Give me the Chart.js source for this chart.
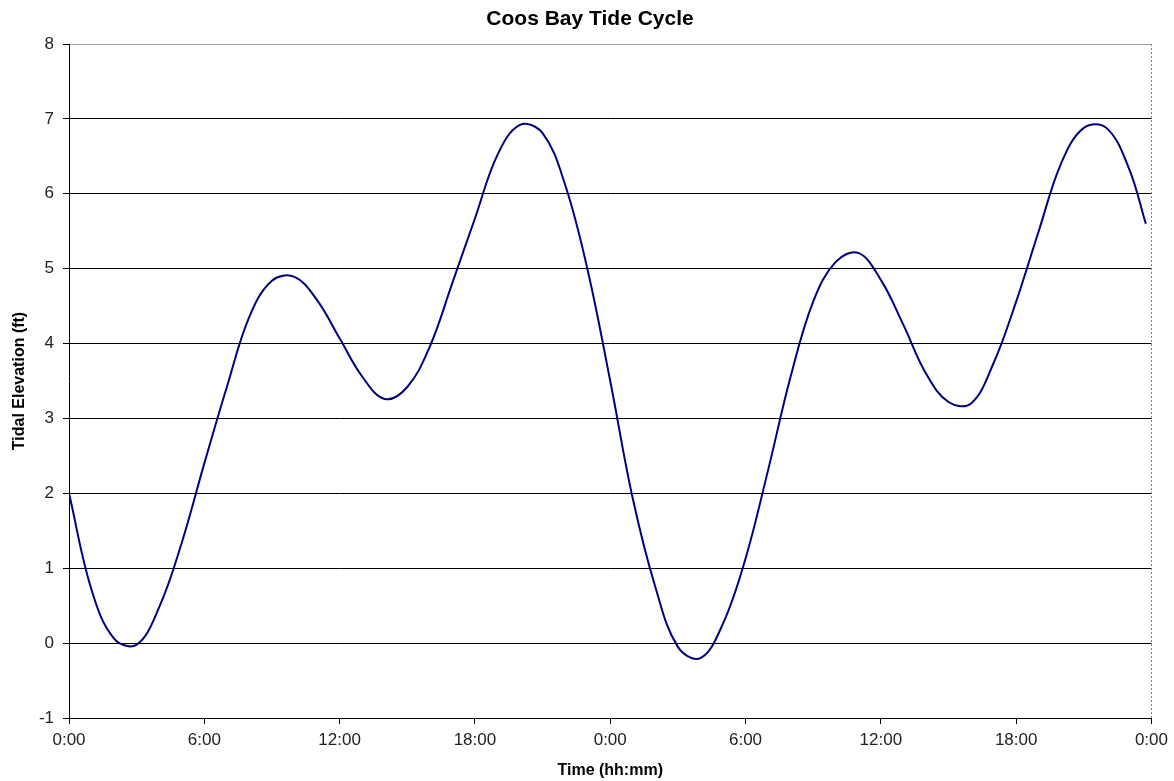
<!DOCTYPE html>
<html>
<head>
<meta charset="utf-8">
<script src="https://cdn.jsdelivr.net/npm/chart.js@4.4.1/dist/chart.umd.min.js"></script>
<style>
  html, body { margin: 0; padding: 0; background: #ffffff; }
  #wrap { width: 1174px; height: 781px; }
</style>
</head>
<body>
<div id="wrap"><canvas id="c" width="1174" height="781"></canvas></div>
<script>
// ---- Data ----
const hours = [0, 1, 2, 3, 4, 5, 6, 7, 8, 9, 10, 11, 12, 13, 14, 15, 16, 17, 18, 19, 20, 21, 22, 23,
               24, 25, 26, 27, 28, 29, 30, 31, 32, 33, 34, 35, 36, 37, 38, 39, 40, 41, 42, 43, 44, 45, 46, 47, 47.75];
const elevation = [2.0, 0.71, 0.06, -0.02, 0.48, 1.34, 2.4, 3.42, 4.36, 4.84, 4.89, 4.58, 4.07, 3.56, 3.26, 3.42, 3.96, 4.81, 5.67, 6.52, 6.92, 6.81, 6.12, 4.98,
                   3.5, 1.93, 0.75, -0.05, -0.2, 0.26, 1.13, 2.31, 3.56, 4.56, 5.09, 5.21, 4.85, 4.25, 3.6, 3.22, 3.2, 3.74, 4.56, 5.5, 6.41, 6.88, 6.88, 6.34, 5.6];
const timeTickLabels = ['0:00', '6:00', '12:00', '18:00', '0:00', '6:00', '12:00', '18:00', '0:00'];
const chartTitle = 'Coos Bay Tide Cycle';
const xTitle = 'Time (hh:mm)';
const yTitle = 'Tidal Elevation (ft)';

const points = hours.map((h, i) => ({ x: h, y: elevation[i] }));

const FONT = "'Liberation Sans', Arial, Helvetica, sans-serif";

const rightBorder = {
  id: 'rightBorder',
  afterDraw(chart) {
    const { ctx, chartArea } = chart;
    ctx.save();
    ctx.strokeStyle = '#808080';
    ctx.lineWidth = 1;
    ctx.setLineDash([2, 2]);
    ctx.beginPath();
    const x = Math.round(chartArea.right) + 0.5;
    ctx.moveTo(x, chartArea.top);
    ctx.lineTo(x, chartArea.bottom);
    ctx.stroke();
    ctx.restore();
  }
};

new Chart(document.getElementById('c'), {
  type: 'line',
  data: {
    datasets: [{
      data: points,
      borderColor: '#000080',
      borderWidth: 2,
      pointRadius: 0,
      tension: 0.38,
      fill: false,
      yAxisID: 'y'
    }]
  },
  options: {
    responsive: false,
    animation: false,
    layout: { padding: { left: 6, right: 0, top: 0, bottom: 0 } },
    plugins: {
      legend: { display: false },
      tooltip: { enabled: false },
      title: {
        display: true,
        text: chartTitle,
        color: '#000',
        font: { family: FONT, size: 21, weight: 'bold', lineHeight: 1.2 },
        padding: { top: 7, bottom: 11.8 }
      }
    },
    scales: {
      x: {
        type: 'linear',
        min: 0,
        max: 48,
        afterFit(scale) { scale.height = 63; },
        ticks: {
          stepSize: 6,
          autoSkip: false,
          maxRotation: 0,
          color: '#222',
          padding: 6,
          font: { family: FONT, size: 17 },
          callback: (v, i) => timeTickLabels[i]
        },
        grid: {
          drawOnChartArea: false,
          drawTicks: true,
          tickLength: 6,
          tickColor: '#000',
          color: '#000'
        },
        border: { display: true, color: '#000', width: 1 },
        title: {
          display: true,
          text: xTitle,
          color: '#000',
          font: { family: FONT, size: 16, weight: 'bold', lineHeight: 1.25 },
          padding: { top: 0, bottom: 0 }
        }
      },
      y: {
        position: 'left',
        min: -1,
        max: 8,
        afterFit(scale) { scale.width = 63; },
        ticks: {
          stepSize: 1,
          color: '#222',
          padding: 9,
          font: { family: FONT, size: 17 }
        },
        grid: {
          drawTicks: true,
          tickLength: 6,
          tickColor: '#000',
          color: (ctx) => (ctx.tick && ctx.tick.value === 8) ? '#a0a0a0' : '#000',
          lineWidth: 1
        },
        border: { display: true, color: '#000', width: 1 },
        title: {
          display: true,
          text: yTitle,
          color: '#000',
          font: { family: FONT, size: 16, weight: 'bold', lineHeight: 1.25 },
          padding: { top: 4, bottom: 0 }
        }
      },
      yRight: {
        position: 'right',
        display: true,
        min: -1,
        max: 8,
        afterFit(scale) { scale.width = 22; },
        ticks: { display: false },
        grid: { display: false, drawTicks: false },
        border: { display: false },
        title: { display: false }
      }
    }
  },
  plugins: [rightBorder]
});
</script>
</body>
</html>
